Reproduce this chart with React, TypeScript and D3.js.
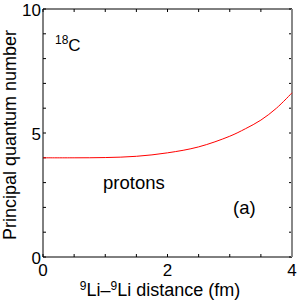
import React, { useRef, useEffect } from 'react';
import * as d3 from 'd3';

// separation distance (fm) and principal quantum number
const distance = [0, 0.5, 1, 1.5, 2, 2.5, 3, 3.25, 3.5, 3.75, 4];
const quantumN = [4.0, 4.0, 4.01, 4.06, 4.2, 4.44, 4.87, 5.17, 5.52, 6.0, 6.62];
const xTickLabels = [0, 2, 4];
const yTickLabels = [0, 5, 10];

export default function App() {
  const ref = useRef<SVGSVGElement>(null);

  useEffect(() => {
    if (!ref.current) return;
    const svg = d3.select(ref.current);
    svg.selectAll('*').remove();

    const left = 43, right = 292, top = 9, bottom = 257;
    const font = 'Liberation Sans, Arial, sans-serif';

    const x = d3.scaleLinear().domain([0, 4]).range([left, right]);
    const y = d3.scaleLinear().domain([0, 10]).range([bottom, top]);

    // minor ticks inside the box
    const tk = 3;
    d3.range(0, 4.01, 0.5).forEach(v => {
      svg.append('line').attr('x1', x(v)).attr('x2', x(v)).attr('y1', bottom).attr('y2', bottom - tk)
        .attr('stroke', '#000').attr('stroke-width', 1);
      svg.append('line').attr('x1', x(v)).attr('x2', x(v)).attr('y1', top).attr('y2', top + tk)
        .attr('stroke', '#000').attr('stroke-width', 1);
    });
    d3.range(0, 10.01, 1).forEach(v => {
      svg.append('line').attr('x1', left).attr('x2', left + tk).attr('y1', y(v)).attr('y2', y(v))
        .attr('stroke', '#000').attr('stroke-width', 1);
      svg.append('line').attr('x1', right).attr('x2', right - tk).attr('y1', y(v)).attr('y2', y(v))
        .attr('stroke', '#000').attr('stroke-width', 1);
    });

    // frame
    svg.append('line').attr('x1', left).attr('x2', right).attr('y1', top).attr('y2', top).attr('stroke', '#000');
    svg.append('line').attr('x1', left).attr('x2', right).attr('y1', bottom).attr('y2', bottom).attr('stroke', '#000');
    svg.append('line').attr('x1', left).attr('x2', left).attr('y1', top).attr('y2', bottom).attr('stroke', '#000');
    svg.append('line').attr('x1', right).attr('x2', right).attr('y1', top).attr('y2', bottom)
      .attr('stroke', '#888').attr('stroke-width', 2);

    // curve
    const pts = distance.map((d, i) => [d, quantumN[i]] as [number, number]);
    const line = d3.line<[number, number]>().x(d => x(d[0])).y(d => y(d[1])).curve(d3.curveCatmullRom);
    svg.append('path').attr('d', line(pts)).attr('fill', 'none').attr('stroke', '#ff0000').attr('stroke-width', 1);

    // tick labels
    xTickLabels.forEach(v => {
      svg.append('text').attr('x', x(v)).attr('y', 276).attr('text-anchor', 'middle')
        .attr('font-family', font).attr('font-size', 17).text(v);
    });
    yTickLabels.forEach(v => {
      svg.append('text').attr('x', left - 2).attr('y', y(v) + 7)
        .attr('text-anchor', 'end').attr('font-family', font).attr('font-size', 17).text(v);
    });

    // axis titles
    const xt = svg.append('text').attr('x', 160).attr('y', 296).attr('text-anchor', 'middle')
      .attr('font-family', font).attr('font-size', 18);
    xt.append('tspan').attr('font-size', 12).attr('dy', -6).text('9');
    xt.append('tspan').attr('dy', 6).text('Li\u2013');
    xt.append('tspan').attr('font-size', 12).attr('dy', -6).text('9');
    xt.append('tspan').attr('dy', 6).text('Li distance (fm)');

    svg.append('text').attr('transform', `translate(16,135) rotate(-90)`)
      .attr('text-anchor', 'middle').attr('font-family', font).attr('font-size', 18)
      .text('Principal quantum number');

    // annotations
    const c = svg.append('text').attr('x', 55).attr('y', 51).attr('font-family', font).attr('font-size', 17);
    c.append('tspan').attr('font-size', 12).attr('dy', -7).text('18');
    c.append('tspan').attr('dy', 7).text('C');

    svg.append('text').attr('x', 103).attr('y', 189).attr('font-family', font).attr('font-size', 18.5).text('protons');
    svg.append('text').attr('x', 233).attr('y', 214).attr('font-family', font).attr('font-size', 18.5).text('(a)');
  }, []);

  return (
    <svg ref={ref} width={300} height={301} style={{ position: 'absolute', left: 0, top: 0, background: '#fff' }} />
  );
}
